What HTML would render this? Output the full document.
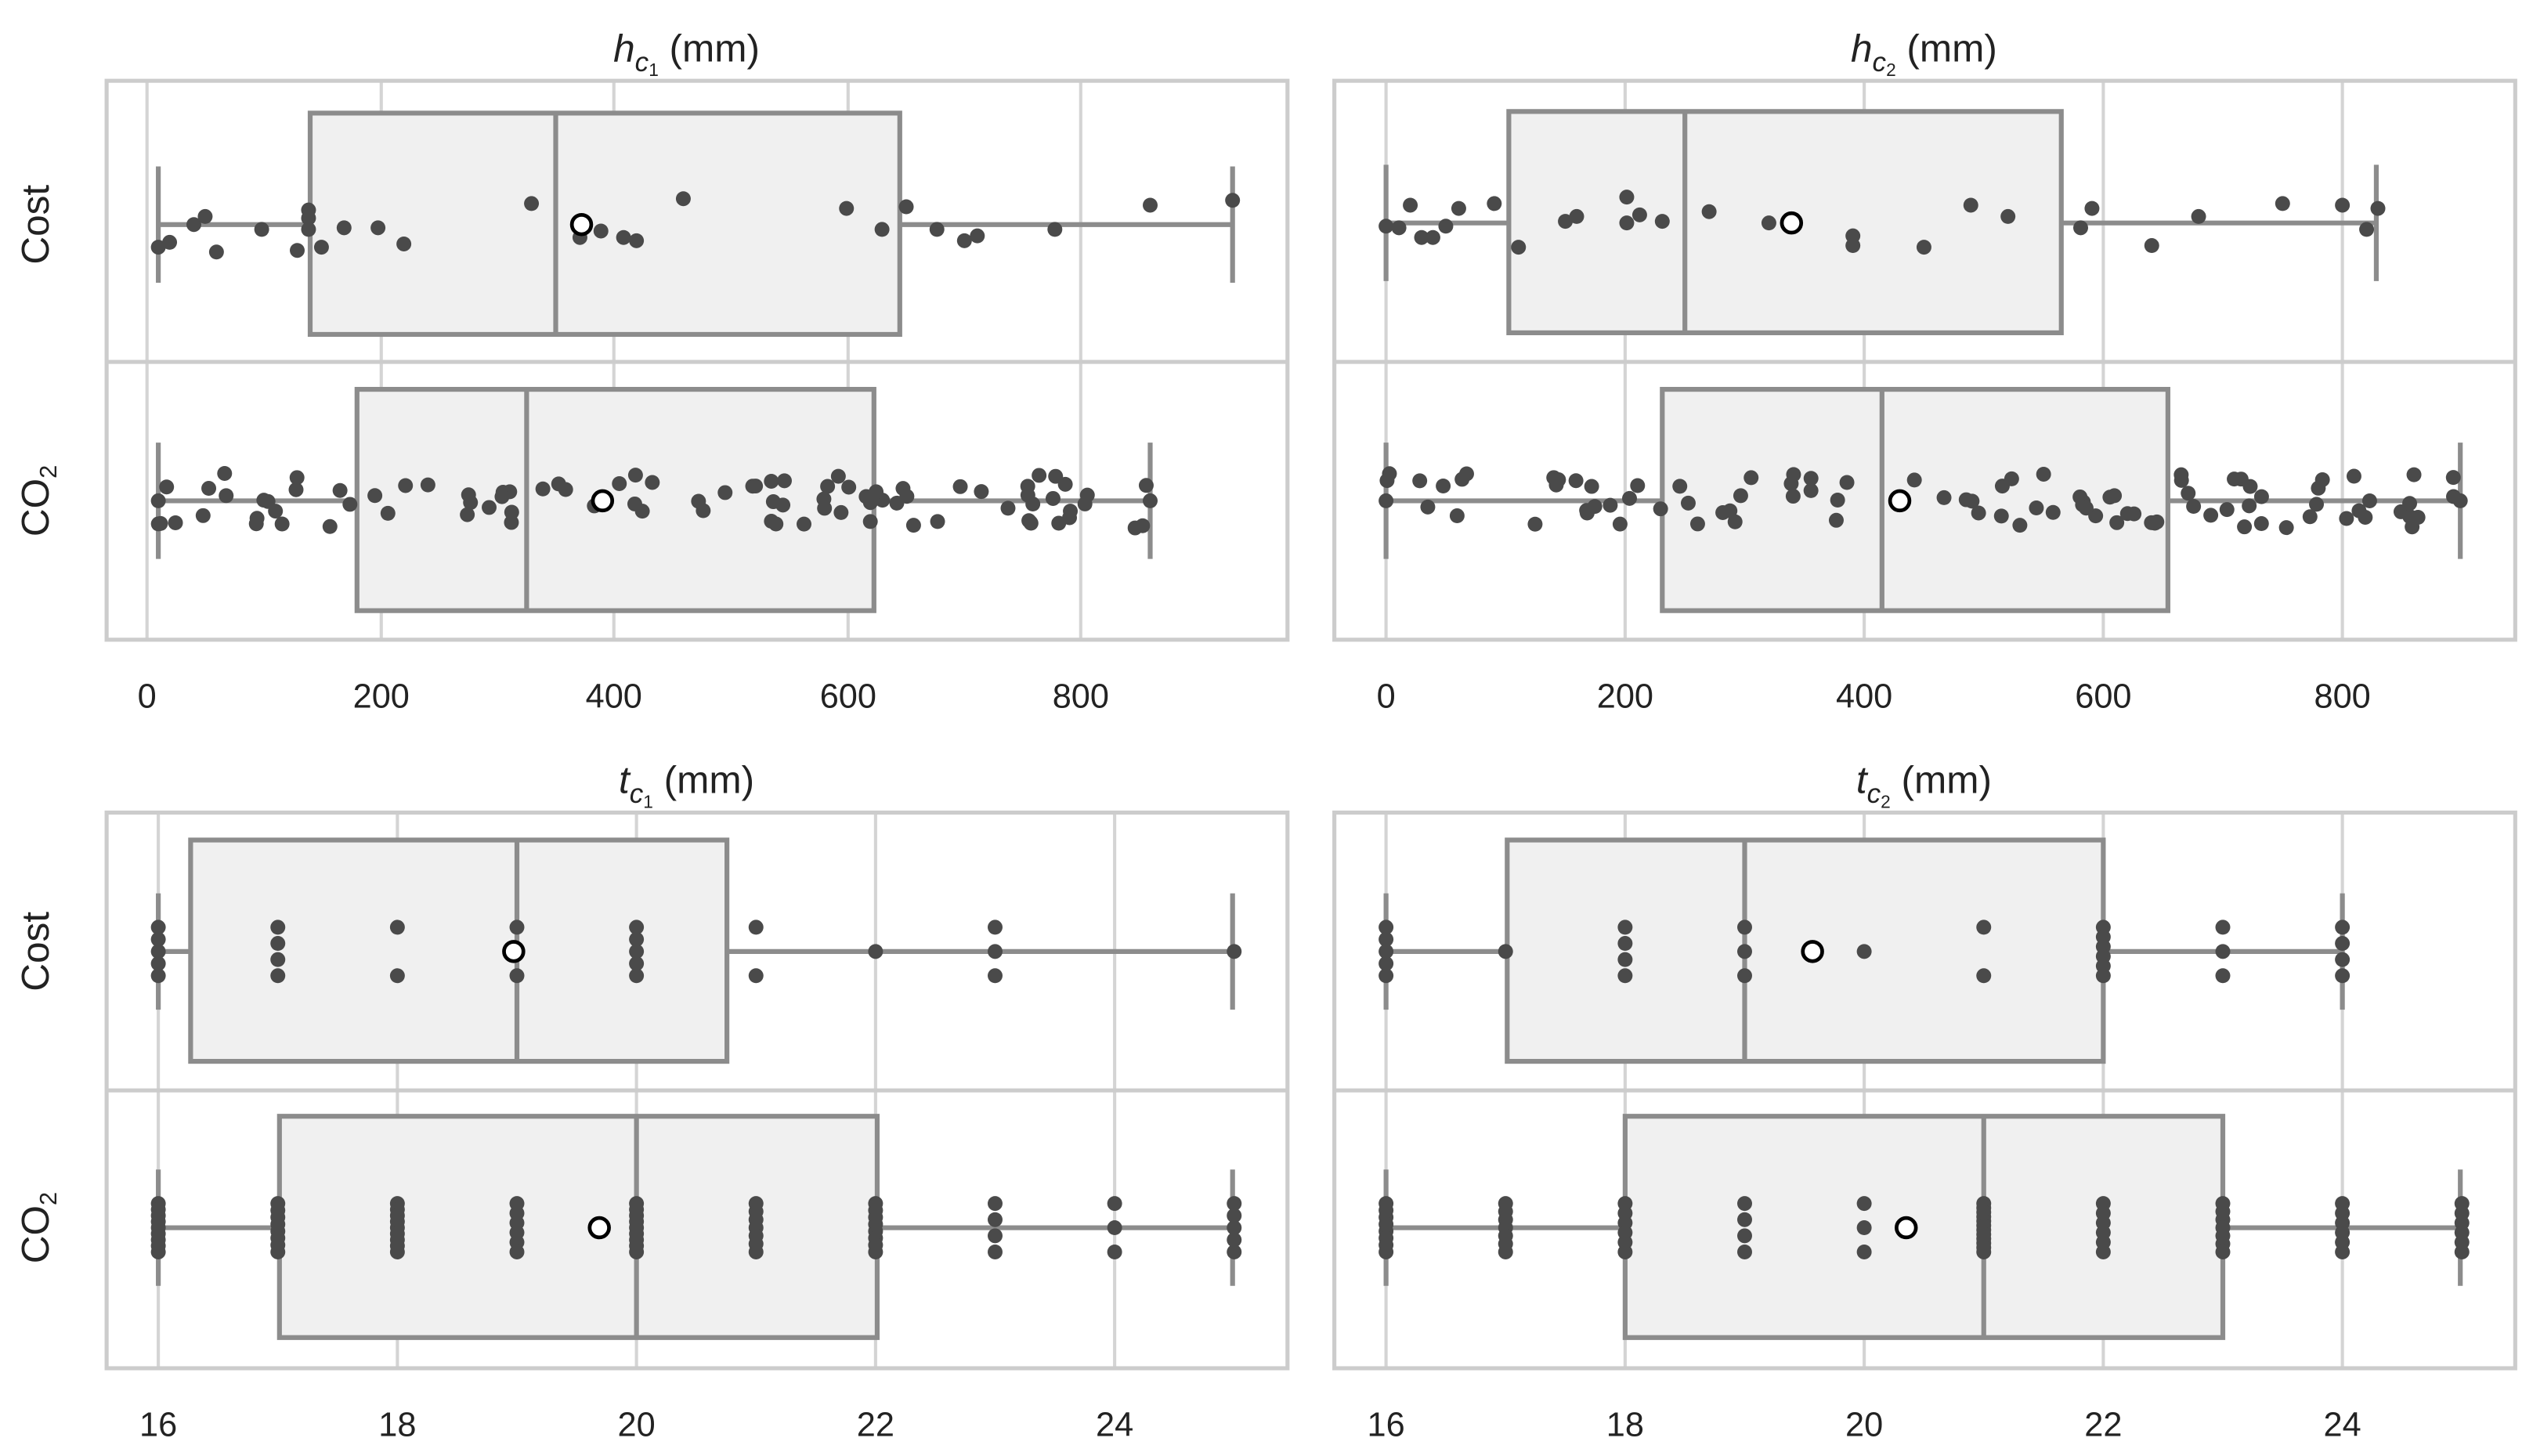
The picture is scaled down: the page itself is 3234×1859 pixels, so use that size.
<!DOCTYPE html>
<html><head><meta charset="utf-8"><style>html,body{margin:0;padding:0;background:#fff}svg{display:block}</style></head>
<body>
<svg id="s" width="3234" height="1859" viewBox="0 0 1568 901.3" xmlns="http://www.w3.org/2000/svg" font-family="Liberation Sans, Arial, sans-serif">
<rect width="1568" height="902" fill="#fff"/>
<g id="g"></g>
</svg>
<script>
var g=document.getElementById('g'),h='';
var seed=7;function rnd(){seed=(seed*16807)%2147483647;return seed/2147483647;}
function line(x1,y1,x2,y2,c,w){h+='<line x1="'+x1+'" y1="'+y1+'" x2="'+x2+'" y2="'+y2+'" stroke="'+c+'" stroke-width="'+w+'"/>';}
function txt(x,y,s,sz,anc,extra){h+='<text x="'+x+'" y="'+y+'" font-size="'+sz+'" text-anchor="'+(anc||'middle')+'" fill="#222" '+(extra||'')+'>'+s+'</text>';}
function panel(x0,x1,y0,y1,ym,grid){
  for(var i=0;i<grid.length;i++)line(grid[i],y0,grid[i],y1,'#d4d4d4',2);
  h+='<rect x="'+x0+'" y="'+y0+'" width="'+(x1-x0)+'" height="'+(y1-y0)+'" fill="none" stroke="#cccccc" stroke-width="2.5"/>';
  line(x0,ym,x1,ym,'#cccccc',2.5);
}
function box(w0,q1,med,q3,w1,cy,mean,pts){
  var c='#8c8c8c';
  line(w0,cy,q1,cy,c,3);line(q3,cy,w1,cy,c,3);
  line(w0,cy-36,w0,cy+36,c,3);line(w1,cy-36,w1,cy+36,c,3);
  h+='<rect x="'+q1+'" y="'+(cy-69)+'" width="'+(q3-q1)+'" height="137" fill="#f0f0f0" stroke="'+c+'" stroke-width="3"/>';
  line(med,cy-69,med,cy+68,c,3);
  for(var i=0;i<pts.length;i++)h+='<circle cx="'+pts[i][0]+'" cy="'+pts[i][1]+'" r="4.6" fill="#4a4a4a"/>';
  h+='<circle cx="'+mean+'" cy="'+cy+'" r="6" fill="#fff" stroke="#000" stroke-width="2.3"/>';
}
function randPts(n,a,b,cy){var p=[];for(var i=0;i<n;i++){p.push([a+(b-a)*Math.pow(rnd(),1.05),cy-17+rnd()*34]);}p.push([a,cy]);p.push([b,cy]);return p;}
function disc(vals,x16,cy){var p=[];for(var k in vals){var n=vals[k],x=x16+(k-16)*74;for(var j=0;j<n;j++){p.push([x,cy-15+(n==1?15:30*j/(n-1))]);}}return p;}
var gTL=[91,236,380,525,669],gTR=[858,1006,1154,1302,1450],gB=[98,246,394,542,690],gBR=[858,1006,1154,1302,1450];
panel(66,797,50,396,224,gTL);panel(826,1557,50,396,224,gTR);
panel(66,797,503,847,675,gB);panel(826,1557,503,847,675,gBR);
box(98,192,344,557,763,139,360,[[98,153],[105,150],[120,139],[127,134],[134,156],[162,142],[184,155],[191,130],[191,135],[191,142],[199,153],[213,141],[234,141],[250,151],[329,126],[359,147],[372,143],[386,147],[394,149],[423,123],[524,129],[546,142],[561,128],[580,142],[597,149],[605,146],[653,142],[712,127],[763,124]]);
box(98,221,326,541,712,310,373,randPts(90,98,712,310));
box(858,934,1043,1276,1471,138,1109,[[858,140],[866,141],[873,127],[880,147],[887,147],[895,140],[903,129],[925,126],[940,153],[969,137],[976,134],[1007,122],[1007,138],[1015,133],[1029,137],[1058,131],[1095,138],[1147,146],[1147,152],[1191,153],[1220,127],[1243,134],[1288,141],[1295,129],[1332,152],[1361,134],[1413,126],[1450,127],[1465,142],[1472,129]]);
box(858,1029,1165,1342,1523,310,1176,randPts(95,858,1523,310));
box(98,118,320,450,763,589,318,disc({16:5,17:4,18:2,19:2,20:5,21:2,22:1,23:3,25:1},98,589));
box(98,173,394,543,763,760,371,disc({16:9,17:8,18:9,19:6,20:9,21:7,22:8,23:4,24:3,25:5},98,760));
box(858,933,1080,1302,1450,589,1122,disc({16:5,17:1,18:4,19:3,20:1,21:2,22:6,23:3,24:4},858,589));
box(858,1006,1228,1376,1523,760,1180,disc({16:8,17:7,18:6,19:4,20:3,21:12,22:6,23:7,24:6,25:6},858,760));
var t=['0','200','400','600','800'];
for(var i=0;i<5;i++){txt(gTL[i],438,t[i],21);txt(gTR[i],438,t[i],21);}
var tb=['16','18','20','22','24'];
for(var i=0;i<5;i++){txt(gB[i],889,tb[i],21);txt(gBR[i],889,tb[i],21);}
function title(x,y,v,n){h+='<text x="'+x+'" y="'+y+'" font-size="24" text-anchor="middle" fill="#222"><tspan font-style="italic">'+v+'</tspan><tspan font-style="italic" font-size="17" dy="6">c</tspan><tspan font-size="11" dy="3">'+n+'</tspan><tspan dy="-9"> (mm)</tspan></text>';}
title(425,38,'h','1');title(1191,38,'h','2');title(425,491,'t','1');title(1191,491,'t','2');
function ylab(y,s){h+='<text transform="translate(30,'+y+') rotate(-90)" font-size="24" text-anchor="middle" fill="#222">'+s+'</text>';}
ylab(139,'Cost');ylab(589,'Cost');
h+='<text transform="translate(30,310) rotate(-90)" font-size="24" text-anchor="middle" fill="#222">CO<tspan font-size="15" dy="5">2</tspan></text>';
h+='<text transform="translate(30,760) rotate(-90)" font-size="24" text-anchor="middle" fill="#222">CO<tspan font-size="15" dy="5">2</tspan></text>';
g.innerHTML=h;
</script>
</body></html>
